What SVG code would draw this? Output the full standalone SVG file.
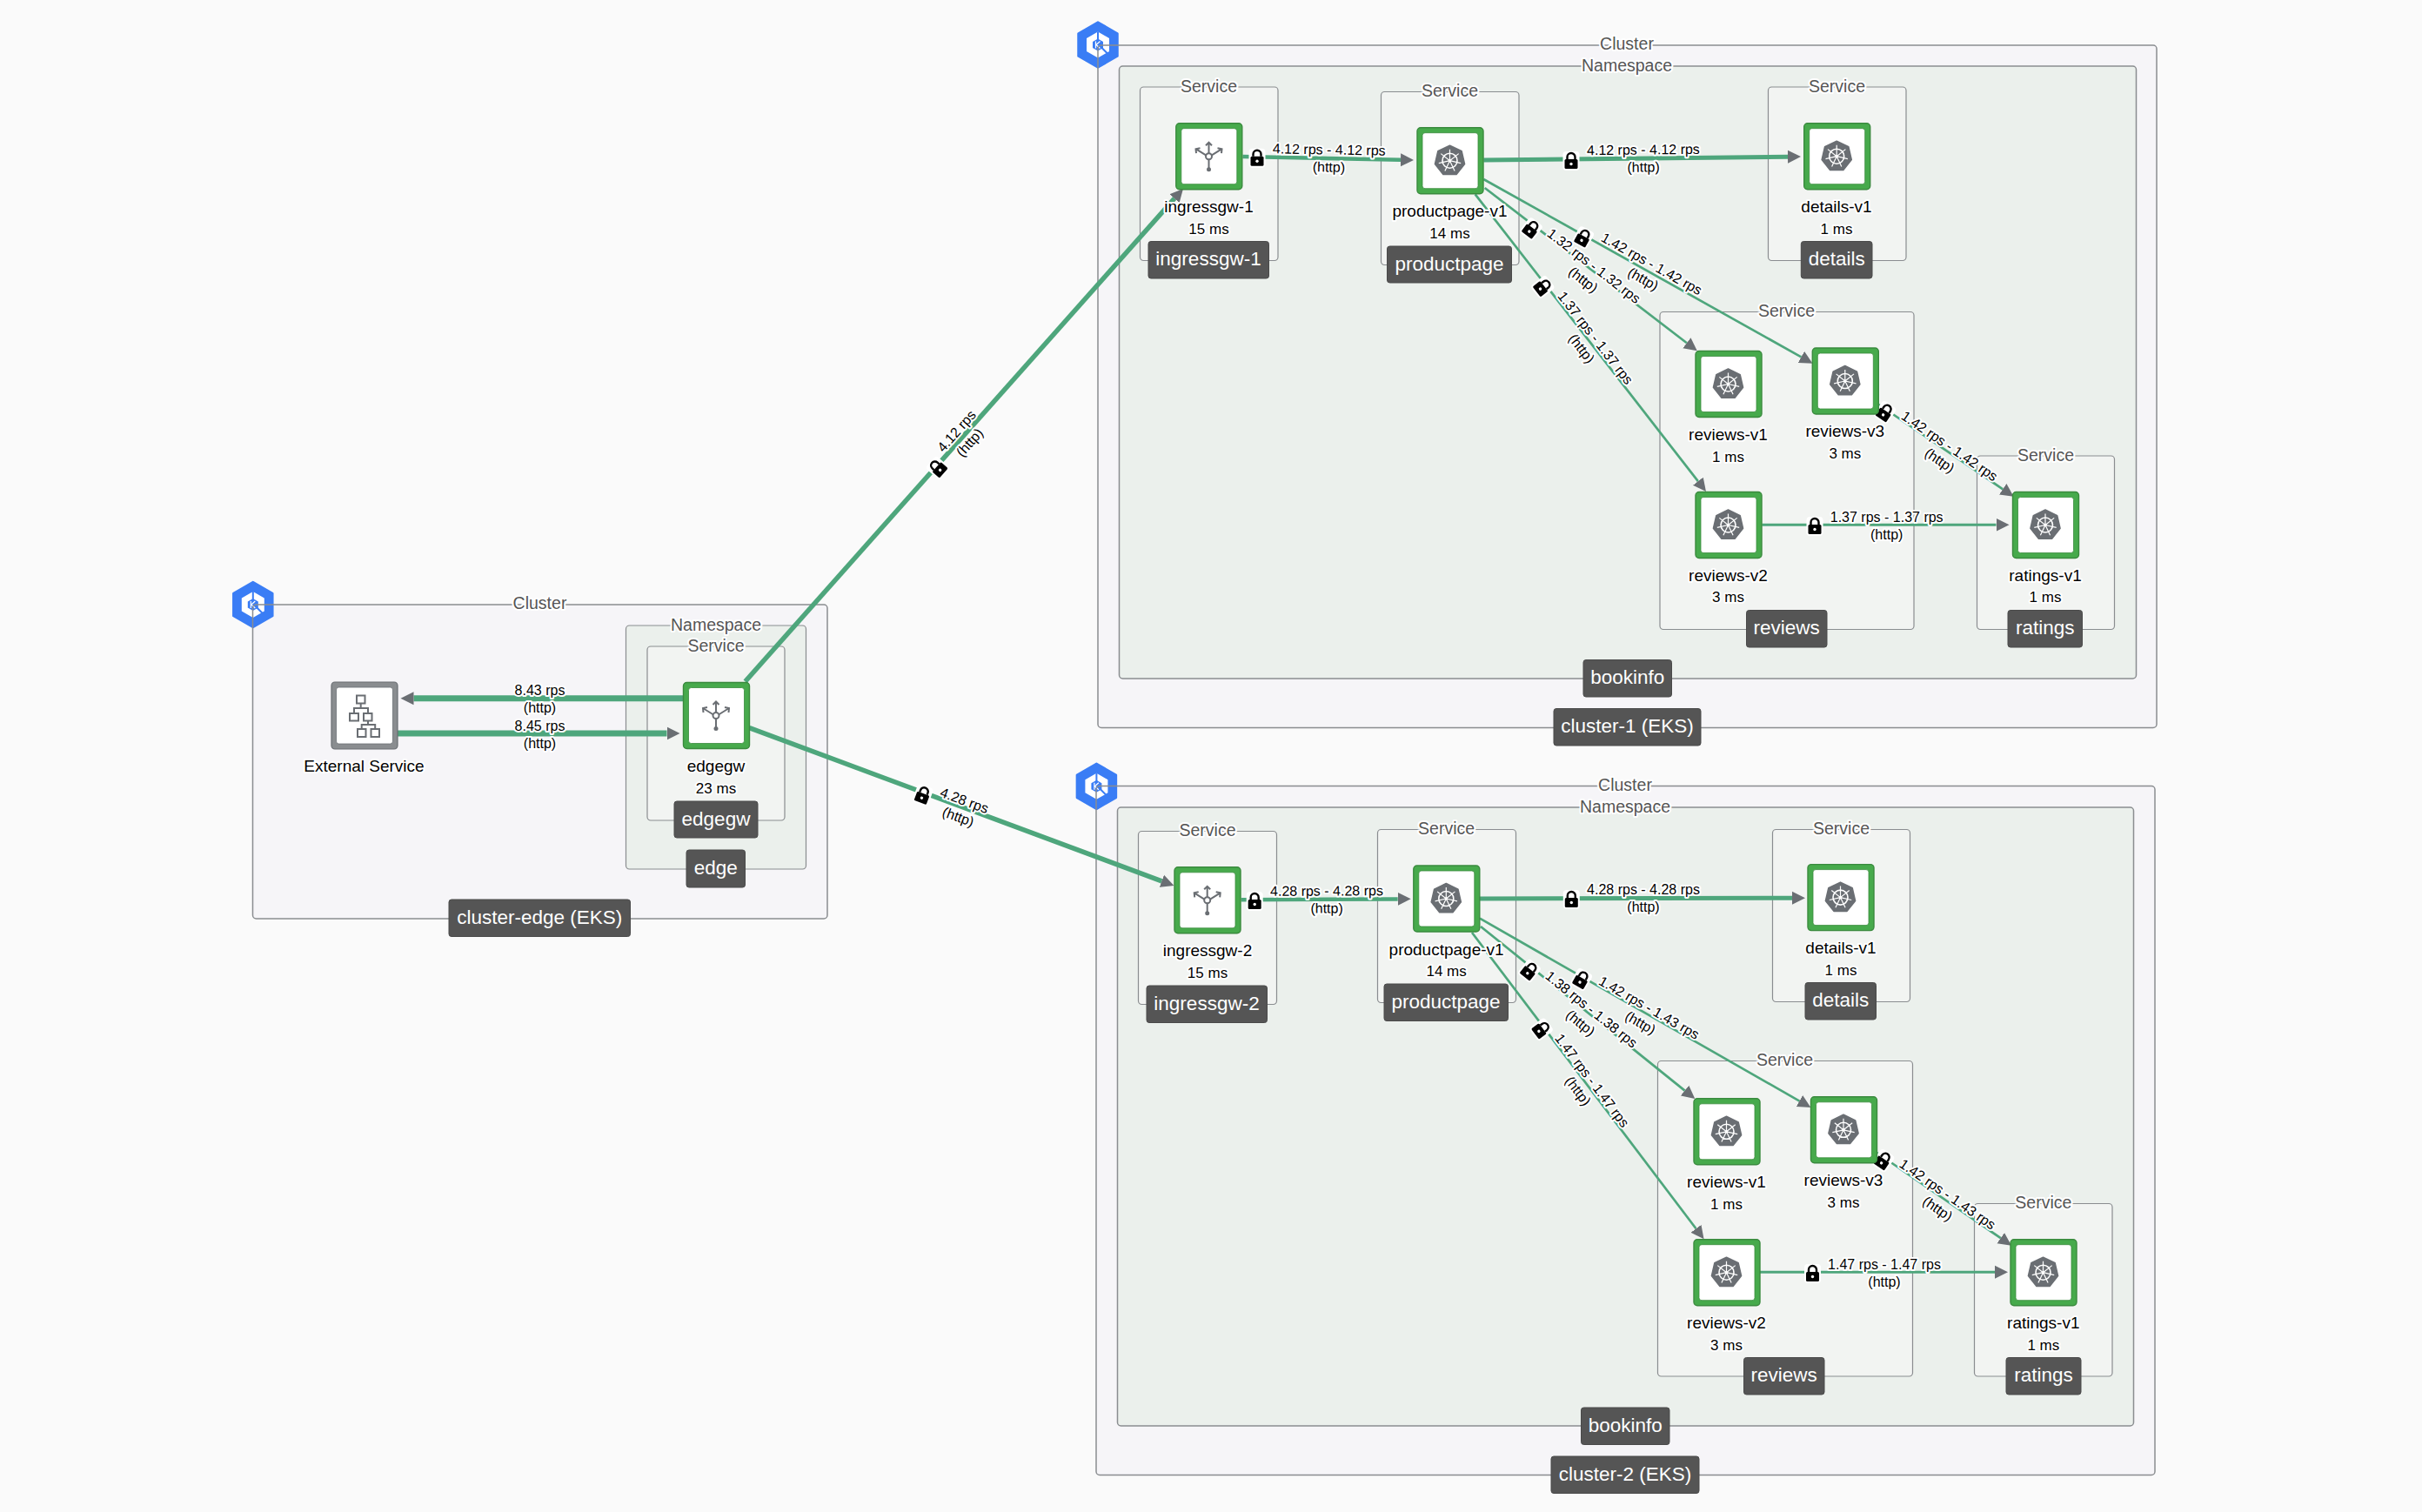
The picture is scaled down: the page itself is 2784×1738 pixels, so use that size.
<svg xmlns="http://www.w3.org/2000/svg" width="2784" height="1738" viewBox="0 0 2784 1738">
<style>
text{font-family:"Liberation Sans",Arial,sans-serif;text-anchor:middle;dominant-baseline:central}
.cf{fill:#f6f5f8}.nf{fill:#ebf0ec}.sf{fill:#f2f4f2}
.bx{fill:none;stroke:#8a8d90;stroke-width:1.5}
.sb{fill:none;stroke:#8a8d90;stroke-width:1.2}
.leg{font-size:19.5px;fill:#555;stroke:#fff;stroke-width:4;paint-order:stroke;stroke-linejoin:round}
.pill{fill:#555;stroke:#4a4a4a;stroke-width:1}
.pt{font-size:22.5px;fill:#fff}
.nm{font-size:19px;fill:#000;stroke:#fff;stroke-width:4;paint-order:stroke;stroke-linejoin:round}
.ms{font-size:17px;fill:#000;stroke:#fff;stroke-width:4;paint-order:stroke;stroke-linejoin:round}
.el{font-size:16px;fill:#000;stroke:#fff;stroke-width:4;paint-order:stroke;stroke-linejoin:round}
.e{fill:none;stroke:#4ea67c;marker-end:url(#ah)}
.ic{fill:none;stroke:#6a6e73;stroke-width:2}
</style>
<defs>
<marker id="ah" markerUnits="userSpaceOnUse" markerWidth="16" markerHeight="16" refX="0" refY="8" orient="auto"><path d="M0,0.5L15,8L0,15.5z" fill="#6a6e73"/></marker>
<g id="hex">
<path d="M0,-26L22.5,-13V13L0,26L-22.5,13V-13z" fill="#3a7df5" stroke="#3a7df5" stroke-width="2.5" stroke-linejoin="round"/>
<path d="M0,-11L9.5,-5.5V5.5L0,11L-9.5,5.5V-5.5z" fill="none" stroke="#fff" stroke-width="7"/>
<path d="M0,-15V-5M4,3L13,12" fill="none" stroke="#3a7df5" stroke-width="2"/>
<path d="M2.5,-4L-2,0L2.5,4M-2.5,-4V4" fill="none" stroke="#fff" stroke-width="1.2"/>
</g>
<g id="box">
<rect x="-38" y="-38" width="76" height="76" rx="4" fill="#47aa4c" stroke="#3a8a3e" stroke-width="1.4"/>
<rect x="-32" y="-32" width="64" height="64" rx="3" fill="#fff" stroke="#3a8a3e" stroke-width="0.8"/>
</g>
<g id="k8s">
<path d="M0,-17.5L13.7,-10.9L17.1,3.9L7.6,15.8H-7.6L-17.1,3.9L-13.7,-10.9z" fill="#6a6e73" stroke="#6a6e73" stroke-width="1.5" stroke-linejoin="round"/>
<circle r="8.5" fill="none" stroke="#fff" stroke-width="1.6"/>
<circle r="1.8" fill="#fff"/>
<path d="M0,0V-13M0,0L10.2,-8.1M0,0L12.7,2.9M0,0L5.6,11.7M0,0L-5.6,11.7M0,0L-12.7,2.9M0,0L-10.2,-8.1" fill="none" stroke="#fff" stroke-width="1.2"/>
</g>
<g id="gw">
<path class="ic" d="M0,4V15M0,-3V-16M-3,-1L-15,-8.5M3,-1L15,-8.5M-3.5,-12.5L0,-16L3.5,-12.5M-14.5,-3.5L-15,-8.5L-10,-9.5M14.5,-3.5L15,-8.5L10,-9.5"/>
<circle r="3.5" fill="#fff" stroke="#6a6e73" stroke-width="2"/>
<circle cy="15" r="2.5" fill="#6a6e73"/>
</g>
<g id="lock">
<rect x="-9.5" y="-11" width="19" height="22" rx="4" fill="#fff"/>
<path d="M-4.5,-2V-4.5a4.5,4.5 0 0 1 9,0V-2" fill="none" stroke="#000" stroke-width="2.4"/>
<rect x="-7.5" y="-2" width="15" height="11" rx="1.5" fill="#000"/>
<circle cy="3.5" r="1.7" fill="#fff"/>
</g>
</defs>
<rect width="2784" height="1738" fill="#fafafa"/>

<g id="cluster-edge">
<rect class="cf" x="290.5" y="695" width="660.5" height="361" rx="4"/>
<use href="#hex" x="290.8" y="695"/>
<rect class="bx" x="290.5" y="695" width="660.5" height="361" rx="4"/>
<text class="leg" x="620.5" y="693">Cluster</text>
<rect class="nf" x="719.5" y="719" width="207" height="280" rx="4"/><rect class="sb" x="719.5" y="719" width="207" height="280" rx="4"/>
<text class="leg" x="823" y="718">Namespace</text>
<rect class="sf" x="744" y="743" width="158" height="200" rx="4"/><rect class="sb" x="744" y="743" width="158" height="200" rx="4"/>
<text class="leg" x="823" y="742">Service</text>
<rect class="pill" x="775" y="921" width="96" height="42" rx="3"/><text class="pt" x="823" y="941">edgegw</text>
<rect class="pill" x="789" y="977" width="67.5" height="43" rx="3"/><text class="pt" x="822.7" y="997">edge</text>
<rect class="pill" x="516" y="1034" width="208.5" height="42.5" rx="3"/><text class="pt" x="620.3" y="1054">cluster-edge (EKS)</text>
</g>

<g id="cluster-1">
<rect class="cf" x="1262" y="52" width="1217" height="784.5" rx="4"/>
<use href="#hex" x="1262" y="51.5"/>
<rect class="bx" x="1262" y="52" width="1217" height="784.5" rx="4"/>
<text class="leg" x="1870" y="50">Cluster</text>
<rect class="nf" x="1286.5" y="76" width="1169" height="704" rx="4"/><rect class="bx" x="1286.5" y="76" width="1169" height="704" rx="4"/>
<text class="leg" x="1870" y="75">Namespace</text>
<rect class="sf" x="1310.5" y="100" width="158.5" height="199.5" rx="4"/><rect class="sb" x="1310.5" y="100" width="158.5" height="199.5" rx="4"/>
<text class="leg" x="1389.5" y="99">Service</text>
<rect class="sf" x="1587.5" y="105.5" width="158.5" height="199" rx="4"/><rect class="sb" x="1587.5" y="105.5" width="158.5" height="199" rx="4"/>
<text class="leg" x="1666.5" y="104">Service</text>
<rect class="sf" x="2032.5" y="100" width="158.5" height="199.5" rx="4"/><rect class="sb" x="2032.5" y="100" width="158.5" height="199.5" rx="4"/>
<text class="leg" x="2111.5" y="99">Service</text>
<rect class="sf" x="1908" y="358.5" width="292" height="365" rx="4"/><rect class="sb" x="1908" y="358.5" width="292" height="365" rx="4"/>
<text class="leg" x="2053.5" y="357">Service</text>
<rect class="sf" x="2272.5" y="524" width="158" height="199.5" rx="4"/><rect class="sb" x="2272.5" y="524" width="158" height="199.5" rx="4"/>
<text class="leg" x="2351.5" y="523">Service</text>
<rect class="pill" x="1320" y="277.5" width="138.5" height="42.5" rx="3"/><text class="pt" x="1389" y="297.5">ingressgw-1</text>
<rect class="pill" x="1594.5" y="283" width="143" height="42" rx="3"/><text class="pt" x="1666" y="303">productpage</text>
<rect class="pill" x="2070.3" y="277.5" width="81.7" height="42.5" rx="3"/><text class="pt" x="2111.2" y="297.5">details</text>
<rect class="pill" x="2007.5" y="701.5" width="92.5" height="42.5" rx="3"/><text class="pt" x="2053.7" y="721.5">reviews</text>
<rect class="pill" x="2308" y="701.5" width="85.5" height="42.5" rx="3"/><text class="pt" x="2350.7" y="721.5">ratings</text>
<rect class="pill" x="1820" y="758.5" width="101.5" height="42.5" rx="3"/><text class="pt" x="1870.7" y="778.5">bookinfo</text>
<rect class="pill" x="1786" y="814.5" width="169" height="42.5" rx="3"/><text class="pt" x="1870.5" y="834.5">cluster-1 (EKS)</text>
</g>

<g id="cluster-2">
<rect class="cf" x="1260" y="903.5" width="1217" height="792" rx="4"/>
<use href="#hex" x="1260.4" y="903.8"/>
<rect class="bx" x="1260" y="903.5" width="1217" height="792" rx="4"/>
<text class="leg" x="1868" y="902.3">Cluster</text>
<rect class="nf" x="1284.5" y="928" width="1168" height="711" rx="4"/><rect class="bx" x="1284.5" y="928" width="1168" height="711" rx="4"/>
<text class="leg" x="1868" y="926.7">Namespace</text>
<rect class="sf" x="1308.5" y="955.5" width="159" height="199" rx="4"/><rect class="sb" x="1308.5" y="955.5" width="159" height="199" rx="4"/>
<text class="leg" x="1388" y="954.3">Service</text>
<rect class="sf" x="1583.5" y="953.5" width="159" height="199" rx="4"/><rect class="sb" x="1583.5" y="953.5" width="159" height="199" rx="4"/>
<text class="leg" x="1662.6" y="952.3">Service</text>
<rect class="sf" x="2037.5" y="953.5" width="158" height="198" rx="4"/><rect class="sb" x="2037.5" y="953.5" width="158" height="198" rx="4"/>
<text class="leg" x="2116.5" y="952.3">Service</text>
<rect class="sf" x="1905.5" y="1219.5" width="293" height="362.5" rx="4"/><rect class="sb" x="1905.5" y="1219.5" width="293" height="362.5" rx="4"/>
<text class="leg" x="2051.5" y="1218">Service</text>
<rect class="sf" x="2269.5" y="1383.5" width="158.5" height="198.5" rx="4"/><rect class="sb" x="2269.5" y="1383.5" width="158.5" height="198.5" rx="4"/>
<text class="leg" x="2348.8" y="1382">Service</text>
<rect class="pill" x="1318" y="1133" width="138.5" height="42.5" rx="3"/><text class="pt" x="1387" y="1153">ingressgw-2</text>
<rect class="pill" x="1591" y="1131" width="142.5" height="42.5" rx="3"/><text class="pt" x="1662" y="1151">productpage</text>
<rect class="pill" x="2075" y="1129.5" width="81.5" height="42.5" rx="3"/><text class="pt" x="2115.7" y="1149.5">details</text>
<rect class="pill" x="2004.5" y="1560.5" width="92.5" height="42.5" rx="3"/><text class="pt" x="2050.7" y="1580.5">reviews</text>
<rect class="pill" x="2306" y="1560.5" width="86" height="42.5" rx="3"/><text class="pt" x="2349" y="1580.5">ratings</text>
<rect class="pill" x="1817.5" y="1618" width="101.5" height="42.5" rx="3"/><text class="pt" x="1868.2" y="1638">bookinfo</text>
<rect class="pill" x="1783" y="1674" width="170" height="42.5" rx="3"/><text class="pt" x="1868" y="1694">cluster-2 (EKS)</text>
</g>

<g id="connectors">
<path class="e" style="stroke-width:7" d="M785,802.7H475.5"/>
<path class="e" style="stroke-width:7" d="M457,843H766.5"/>
<path class="e" style="stroke-width:5.5" d="M856.6,783.3L1350,228.2"/>
<path class="e" style="stroke-width:5.5" d="M861.4,836.7L1335.4,1012.8"/>
<path class="e" style="stroke-width:4.5" d="M1428.4,180L1610,183.7"/>
<path class="e" style="stroke-width:5" d="M1705.3,184L2055,180.2"/>
<path class="e" style="stroke-width:2.7" d="M1705.3,206L2070.4,410.4"/>
<path class="e" style="stroke-width:2.7" d="M1706.7,216L1938.9,394.2"/>
<path class="e" style="stroke-width:2.7" d="M1695.7,223.3L1951.8,553.2"/>
<path class="e" style="stroke-width:2.7" d="M2159.5,465L2302.2,562.3"/>
<path class="e" style="stroke-width:3" d="M2025.3,603.3H2294.5"/>
<path class="e" style="stroke-width:4.5" d="M1426.6,1034.3L1606.7,1033.4"/>
<path class="e" style="stroke-width:5" d="M1701,1033L2060,1032.2"/>
<path class="e" style="stroke-width:2.7" d="M1701,1055.7L2068.4,1265.6"/>
<path class="e" style="stroke-width:2.7" d="M1702,1065L1936.6,1253.6"/>
<path class="e" style="stroke-width:2.7" d="M1692,1072L1949.5,1412.3"/>
<path class="e" style="stroke-width:2.7" d="M2157.4,1325L2299.7,1423.2"/>
<path class="e" style="stroke-width:3" d="M2022.8,1462.3H2293"/>

<use href="#lock" transform="translate(1078,538) rotate(-48.4)"/>
<use href="#lock" transform="translate(1060.7,914) rotate(20.4)"/>
<use href="#lock" transform="translate(1445,181.7)"/>
<use href="#lock" transform="translate(1806,185)"/>
<use href="#lock" transform="translate(1819.7,273.3) rotate(29)"/>
<use href="#lock" transform="translate(1760,263.3) rotate(37.4)"/>
<use href="#lock" transform="translate(1773.3,330) rotate(52)"/>
<use href="#lock" transform="translate(2166.6,474) rotate(34)"/>
<use href="#lock" transform="translate(2086,605)"/>
<use href="#lock" transform="translate(1442.2,1036)"/>
<use href="#lock" transform="translate(1806.3,1034)"/>
<use href="#lock" transform="translate(1817.7,1126) rotate(29.7)"/>
<use href="#lock" transform="translate(1758,1116) rotate(38.8)"/>
<use href="#lock" transform="translate(1771.7,1183.3) rotate(52.9)"/>
<use href="#lock" transform="translate(2164.6,1334) rotate(34.6)"/>
<use href="#lock" transform="translate(2083.5,1464)"/>

<g transform="translate(620.5,803)"><text class="el" y="-10">8.43 rps</text><text class="el" y="10">(http)</text></g>
<g transform="translate(620.5,844)"><text class="el" y="-10">8.45 rps</text><text class="el" y="10">(http)</text></g>
<g transform="translate(1107,502) rotate(-48.4)"><text class="el" y="-10">4.12 rps</text><text class="el" y="10">(http)</text></g>
<g transform="translate(1105,929.5) rotate(20.4)"><text class="el" y="-10">4.28 rps</text><text class="el" y="10">(http)</text></g>
<g transform="translate(1527.6,182) rotate(1)"><text class="el" y="-10">4.12 rps - 4.12 rps</text><text class="el" y="10">(http)</text></g>
<g transform="translate(1889,182) rotate(-0.6)"><text class="el" y="-10">4.12 rps - 4.12 rps</text><text class="el" y="10">(http)</text></g>
<g transform="translate(1893.7,312) rotate(29.2)"><text class="el" y="-10">1.42 rps - 1.42 rps</text><text class="el" y="10">(http)</text></g>
<g transform="translate(1826,313.6) rotate(37.5)"><text class="el" y="-10">1.32 rps - 1.32 rps</text><text class="el" y="10">(http)</text></g>
<g transform="translate(1826,394.5) rotate(52.2)"><text class="el" y="-10">1.37 rps - 1.37 rps</text><text class="el" y="10">(http)</text></g>
<g transform="translate(2235.3,521) rotate(34.3)"><text class="el" y="-10">1.42 rps - 1.42 rps</text><text class="el" y="10">(http)</text></g>
<g transform="translate(2168.7,604)"><text class="el" y="-10">1.37 rps - 1.37 rps</text><text class="el" y="10">(http)</text></g>
<g transform="translate(1525,1034) rotate(-0.3)"><text class="el" y="-10">4.28 rps - 4.28 rps</text><text class="el" y="10">(http)</text></g>
<g transform="translate(1889,1032.7)"><text class="el" y="-10">4.28 rps - 4.28 rps</text><text class="el" y="10">(http)</text></g>
<g transform="translate(1890.6,1167) rotate(29.7)"><text class="el" y="-10">1.42 rps - 1.43 rps</text><text class="el" y="10">(http)</text></g>
<g transform="translate(1823,1168) rotate(38.8)"><text class="el" y="-10">1.38 rps - 1.38 rps</text><text class="el" y="10">(http)</text></g>
<g transform="translate(1822,1248) rotate(52.9)"><text class="el" y="-10">1.47 rps - 1.47 rps</text><text class="el" y="10">(http)</text></g>
<g transform="translate(2233,1381) rotate(34.6)"><text class="el" y="-10">1.42 rps - 1.43 rps</text><text class="el" y="10">(http)</text></g>
<g transform="translate(2166,1463.3)"><text class="el" y="-10">1.47 rps - 1.47 rps</text><text class="el" y="10">(http)</text></g>
</g>

<g id="external-service">
<rect x="381" y="784" width="76" height="77" rx="4" fill="#8a8d90" stroke="#6a6e73" stroke-width="1.2"/>
<rect x="386.5" y="790" width="65" height="65" rx="3" fill="#fff" stroke="#6a6e73" stroke-width="0.8"/>
<path class="ic" d="M410,799.5h9.5v9h-9.5zM402,820h10v8.5h-10zM418,820h9.5v8.5h-9.5zM411,838h9.5v9h-9.5zM426.5,838h9.5v9h-9.5zM414.7,808.5v5.5M407,820v-6h16v6M423,828.5v4.5M415.7,838v-5h15.5v5"/>
<text class="nm" x="418.5" y="880">External Service</text>
</g>
<g id="edgegw"><use href="#box" x="823.5" y="822.5"/><use href="#gw" x="823" y="822.5"/><text class="nm" x="823" y="880">edgegw</text><text class="ms" x="823" y="906">23 ms</text></g>

<g id="ingressgw-1"><use href="#box" x="1389.8" y="179.7"/><use href="#gw" x="1389.5" y="179.7"/><text class="nm" x="1389.5" y="237.3">ingressgw-1</text><text class="ms" x="1389.5" y="263">15 ms</text></g>
<g id="productpage-v1-1"><use href="#box" x="1667" y="184.7"/><use href="#k8s" x="1666.5" y="184.7"/><text class="nm" x="1666.5" y="242.7">productpage-v1</text><text class="ms" x="1666.5" y="268.3">14 ms</text></g>
<g id="details-v1-1"><use href="#box" x="2111.7" y="179.7"/><use href="#k8s" x="2111.2" y="179.7"/><text class="nm" x="2111" y="237">details-v1</text><text class="ms" x="2111" y="263">1 ms</text></g>
<g id="reviews-v1-1"><use href="#box" x="1987" y="441.5"/><use href="#k8s" x="1986.5" y="441.5"/><text class="nm" x="1986.5" y="499.3">reviews-v1</text><text class="ms" x="1986.5" y="525">1 ms</text></g>
<g id="reviews-v3-1"><use href="#box" x="2121.3" y="438"/><use href="#k8s" x="2120.8" y="438"/><text class="nm" x="2120.8" y="495.7">reviews-v3</text><text class="ms" x="2120.8" y="521.7">3 ms</text></g>
<g id="reviews-v2-1"><use href="#box" x="1987" y="603.5"/><use href="#k8s" x="1986.5" y="603.5"/><text class="nm" x="1986.5" y="661">reviews-v2</text><text class="ms" x="1986.5" y="686.7">3 ms</text></g>
<g id="ratings-v1-1"><use href="#box" x="2351.5" y="603.5"/><use href="#k8s" x="2351" y="603.5"/><text class="nm" x="2351" y="661">ratings-v1</text><text class="ms" x="2351" y="686.7">1 ms</text></g>

<g id="ingressgw-2"><use href="#box" x="1388" y="1034.8"/><use href="#gw" x="1387.7" y="1034.8"/><text class="nm" x="1388" y="1092.3">ingressgw-2</text><text class="ms" x="1388" y="1118.3">15 ms</text></g>
<g id="productpage-v1-2"><use href="#box" x="1662.8" y="1033"/><use href="#k8s" x="1662.3" y="1033"/><text class="nm" x="1662.6" y="1091">productpage-v1</text><text class="ms" x="1662.6" y="1116.7">14 ms</text></g>
<g id="details-v1-2"><use href="#box" x="2116" y="1031.6"/><use href="#k8s" x="2115.5" y="1031.6"/><text class="nm" x="2116" y="1089.3">details-v1</text><text class="ms" x="2116" y="1115">1 ms</text></g>
<g id="reviews-v1-2"><use href="#box" x="1985" y="1300.8"/><use href="#k8s" x="1984.5" y="1300.8"/><text class="nm" x="1984.5" y="1358.3">reviews-v1</text><text class="ms" x="1984.5" y="1384">1 ms</text></g>
<g id="reviews-v3-2"><use href="#box" x="2119.5" y="1298.8"/><use href="#k8s" x="2119" y="1298.8"/><text class="nm" x="2119" y="1356.7">reviews-v3</text><text class="ms" x="2119" y="1382.3">3 ms</text></g>
<g id="reviews-v2-2"><use href="#box" x="1985" y="1462.7"/><use href="#k8s" x="1984.5" y="1462.7"/><text class="nm" x="1984.5" y="1520">reviews-v2</text><text class="ms" x="1984.5" y="1546">3 ms</text></g>
<g id="ratings-v1-2"><use href="#box" x="2349" y="1462.7"/><use href="#k8s" x="2348.5" y="1462.7"/><text class="nm" x="2348.8" y="1520">ratings-v1</text><text class="ms" x="2348.8" y="1546">1 ms</text></g>
</svg>
